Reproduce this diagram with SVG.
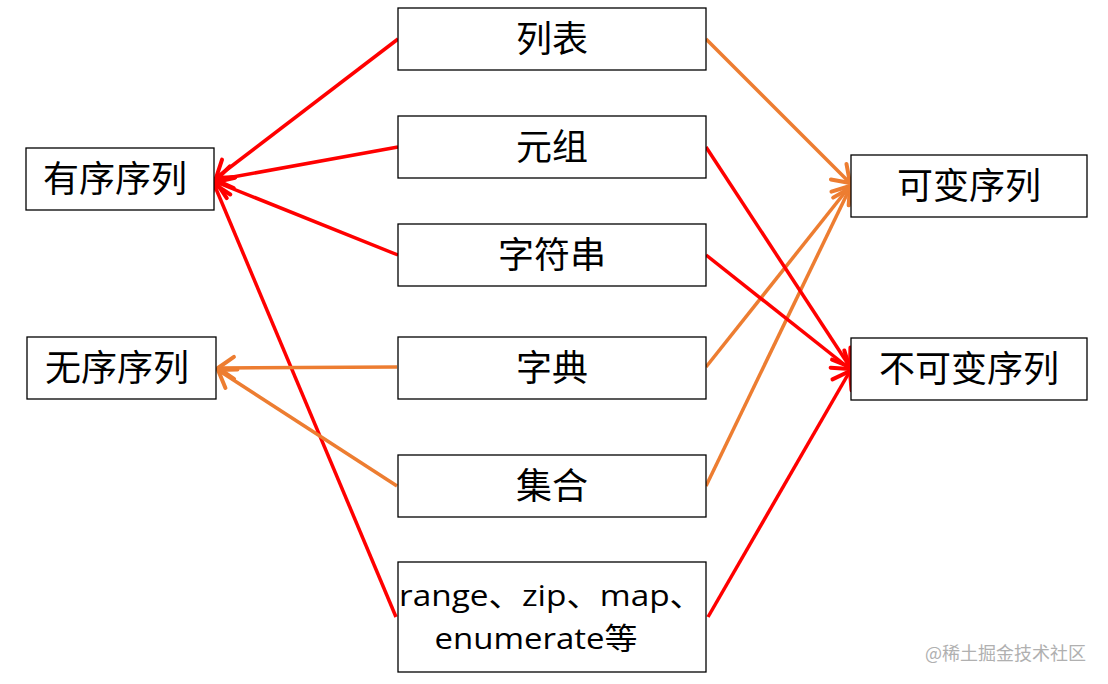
<svg xmlns="http://www.w3.org/2000/svg" width="1108" height="684" viewBox="0 0 1108 684">
<style>
.box{fill:#fff;stroke:#000;stroke-width:1.3}
.t{font-family:"Noto Sans CJK SC",sans-serif;font-size:36px;fill:#000;text-anchor:middle;dominant-baseline:central}
.e{font-family:"Open Sans","Noto Sans CJK SC",sans-serif;font-size:30px;fill:#000;text-anchor:middle}
.r{stroke:#FF0000;stroke-width:3.5;fill:none}
.o{stroke:#ED7D31;stroke-width:3.5;fill:none}
.wm{font-family:"Noto Sans CJK SC",sans-serif;font-size:18px;fill:#b0b0b0}
</style>
<defs>
<marker id="ar" markerUnits="userSpaceOnUse" markerWidth="30" markerHeight="30" refX="20" refY="15" orient="auto" viewBox="0 0 30 30">
<path d="M4,4 L20,15 L4,26" fill="none" stroke="#FF0000" stroke-width="4" stroke-linecap="round" stroke-linejoin="round"/>
</marker>
<marker id="ao" markerUnits="userSpaceOnUse" markerWidth="30" markerHeight="30" refX="20" refY="15" orient="auto" viewBox="0 0 30 30">
<path d="M4,4 L20,15 L4,26" fill="none" stroke="#ED7D31" stroke-width="4" stroke-linecap="round" stroke-linejoin="round"/>
</marker>
</defs>
<g id="connectors">
<line class="r" x1="398" y1="39" x2="216" y2="178" marker-end="url(#ar)"/>
<line class="r" x1="398" y1="147" x2="216" y2="180" marker-end="url(#ar)"/>
<line class="r" x1="398" y1="255" x2="216" y2="182" marker-end="url(#ar)"/>
<line class="r" x1="396" y1="617" x2="214" y2="184" marker-end="url(#ar)"/>
<line class="o" x1="397" y1="367" x2="218" y2="368" marker-end="url(#ao)"/>
<line class="o" x1="397" y1="486" x2="218" y2="370" marker-end="url(#ao)"/>
<line class="o" x1="706" y1="39" x2="850" y2="183" marker-end="url(#ao)"/>
<line class="o" x1="706" y1="367" x2="850" y2="186" marker-end="url(#ao)"/>
<line class="o" x1="706" y1="486" x2="850" y2="188" marker-end="url(#ao)"/>
<line class="r" x1="706" y1="147" x2="850" y2="367" marker-end="url(#ar)"/>
<line class="r" x1="706" y1="255" x2="850" y2="369" marker-end="url(#ar)"/>
<line class="r" x1="708" y1="617" x2="850" y2="371" marker-end="url(#ar)"/>
</g>
<g id="n-ordered"><rect class="box" x="26" y="148" width="188" height="62"/><text class="t" x="115" y="176">有序序列</text></g>
<g id="n-unordered"><rect class="box" x="27" y="337" width="189" height="62"/><text class="t" x="117" y="365">无序序列</text></g>
<g id="n-mutable"><rect class="box" x="851" y="155" width="236" height="62"/><text class="t" x="969" y="183">可变序列</text></g>
<g id="n-immutable"><rect class="box" x="851" y="338" width="236" height="62"/><text class="t" x="969" y="366">不可变序列</text></g>
<g id="n-list"><rect class="box" x="398" y="8" width="308" height="62"/><text class="t" x="552" y="36">列表</text></g>
<g id="n-tuple"><rect class="box" x="398" y="116" width="308" height="62"/><text class="t" x="552" y="144">元组</text></g>
<g id="n-str"><rect class="box" x="398" y="224" width="308" height="62"/><text class="t" x="552" y="252">字符串</text></g>
<g id="n-dict"><rect class="box" x="398" y="337" width="308" height="62"/><text class="t" x="552" y="365">字典</text></g>
<g id="n-set"><rect class="box" x="398" y="455" width="308" height="62"/><text class="t" x="552" y="483">集合</text></g>
<g id="n-range"><rect class="box" x="398" y="562" width="308" height="110"/>
<text class="e" x="551" y="606" textLength="304" lengthAdjust="spacingAndGlyphs">range、zip、map、</text>
<text class="e" x="536" y="649" textLength="203" lengthAdjust="spacingAndGlyphs">enumerate等</text></g>
<text class="wm" x="925" y="660">@稀土掘金技术社区</text>
</svg>
